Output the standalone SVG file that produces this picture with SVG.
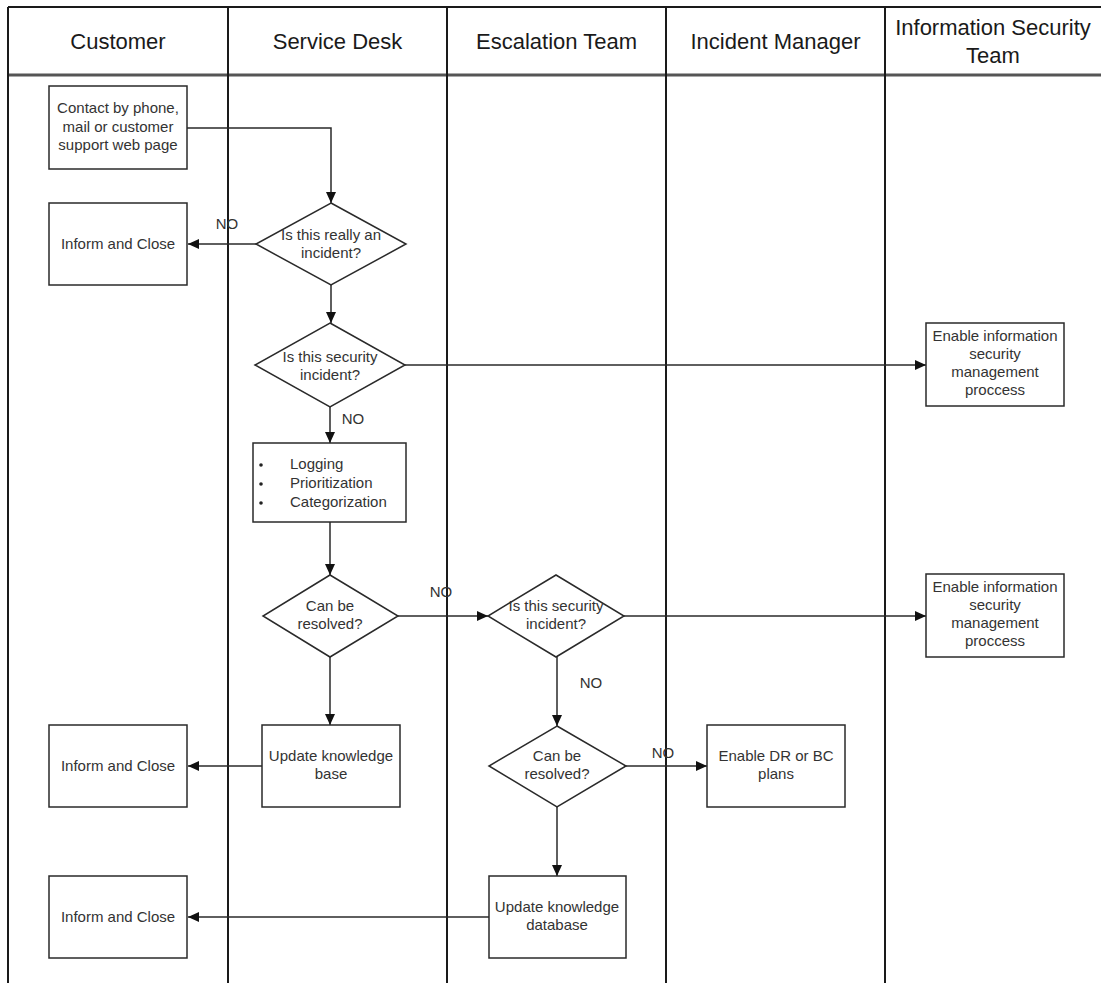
<svg xmlns="http://www.w3.org/2000/svg" width="1101" height="983" viewBox="0 0 1101 983">
<style>
.lane{stroke:#1a1a1a;stroke-width:2;fill:none}
.hdr{font-family:"Liberation Sans",Arial,sans-serif;font-size:22px;fill:#1a1a1a;text-anchor:middle}
.box{fill:#fff;stroke:#2a2a2a;stroke-width:1.5}
.t{font-family:"Liberation Sans",Arial,sans-serif;font-size:15px;fill:#333;text-anchor:middle}
.tl{font-family:"Liberation Sans",Arial,sans-serif;font-size:15px;fill:#333}
.conn{stroke:#2a2a2a;stroke-width:1.5;fill:none;marker-end:url(#ah)}
</style>
<defs>
<marker id="ah" markerUnits="userSpaceOnUse" markerWidth="12" markerHeight="10" refX="11" refY="5" orient="auto">
<path d="M0,0 L11,5 L0,10 Z" fill="#111"/>
</marker>
</defs>
<rect width="1101" height="983" fill="#fff"/>
<g id="lanes">
<line class="lane" x1="8" y1="7" x2="1101" y2="7"/>
<line x1="8" y1="75" x2="1101" y2="75" stroke="#555" stroke-width="3"/>
<line class="lane" x1="8" y1="7" x2="8" y2="983"/>
<line class="lane" x1="228" y1="7" x2="228" y2="983"/>
<line class="lane" x1="447" y1="7" x2="447" y2="983"/>
<line class="lane" x1="666" y1="7" x2="666" y2="983"/>
<line class="lane" x1="885" y1="7" x2="885" y2="983"/>
<text class="hdr" x="118" y="49">Customer</text>
<text class="hdr" x="337.5" y="49">Service Desk</text>
<text class="hdr" x="556.5" y="49">Escalation Team</text>
<text class="hdr" x="775.5" y="49">Incident Manager</text>
<text class="hdr" x="993" y="35">Information Security</text>
<text class="hdr" x="993" y="63">Team</text>
</g>
<g id="connectors">
<path class="conn" d="M187,128 H331 V203"/>
<path class="conn" d="M256,244 H188"/>
<path class="conn" d="M331,285 V323"/>
<path class="conn" d="M405,365 H926"/>
<path class="conn" d="M330,407 V443"/>
<path class="conn" d="M330,522 V575"/>
<path class="conn" d="M398,616 H488"/>
<path class="conn" d="M624,616 H926"/>
<path class="conn" d="M330,657 V725"/>
<path class="conn" d="M262,766 H188"/>
<path class="conn" d="M557,657 V726"/>
<path class="conn" d="M626,766 H707"/>
<path class="conn" d="M557,807 V876"/>
<path class="conn" d="M489,917 H188"/>
<text class="t" x="227" y="229">NO</text>
<text class="t" x="353" y="424">NO</text>
<text class="t" x="441" y="597">NO</text>
<text class="t" x="591" y="688">NO</text>
<text class="t" x="663" y="758">NO</text>
</g>
<g id="contact">
<rect class="box" x="49" y="86" width="138" height="83"/>
<text class="t" x="118" y="113">Contact by phone,</text>
<text class="t" x="118" y="132">mail or customer</text>
<text class="t" x="118" y="150">support web page</text>
</g>
<g id="inform1">
<rect class="box" x="49" y="203" width="138" height="82"/>
<text class="t" x="118" y="249">Inform and Close</text>
</g>
<g id="d1">
<polygon class="box" points="331,203 406,244 331,285 256,244"/>
<text class="t" x="331" y="240">Is this really an</text>
<text class="t" x="331" y="258">incident?</text>
</g>
<g id="d2">
<polygon class="box" points="330,323 405,365 330,407 255,365"/>
<text class="t" x="330" y="362">Is this security</text>
<text class="t" x="330" y="380">incident?</text>
</g>
<g id="enable1">
<rect class="box" x="926" y="323" width="138" height="83"/>
<text class="t" x="995" y="341">Enable information</text>
<text class="t" x="995" y="359">security</text>
<text class="t" x="995" y="377">management</text>
<text class="t" x="995" y="395">proccess</text>
</g>
<g id="logging">
<rect class="box" x="253" y="443" width="153" height="79"/>
<circle cx="261" cy="465" r="1.8" fill="#222"/>
<circle cx="261" cy="484" r="1.8" fill="#222"/>
<circle cx="261" cy="503" r="1.8" fill="#222"/>
<text class="tl" x="290" y="469">Logging</text>
<text class="tl" x="290" y="488">Prioritization</text>
<text class="tl" x="290" y="507">Categorization</text>
</g>
<g id="d3">
<polygon class="box" points="330,575 398,616 330,657 263,616"/>
<text class="t" x="330" y="611">Can be</text>
<text class="t" x="330" y="629">resolved?</text>
</g>
<g id="d4">
<polygon class="box" points="556,575 624,616 556,657 488,616"/>
<text class="t" x="556" y="611">Is this security</text>
<text class="t" x="556" y="629">incident?</text>
</g>
<g id="enable2">
<rect class="box" x="926" y="574" width="138" height="83"/>
<text class="t" x="995" y="592">Enable information</text>
<text class="t" x="995" y="610">security</text>
<text class="t" x="995" y="628">management</text>
<text class="t" x="995" y="646">proccess</text>
</g>
<g id="updatekb">
<rect class="box" x="262" y="725" width="138" height="82"/>
<text class="t" x="331" y="761">Update knowledge</text>
<text class="t" x="331" y="779">base</text>
</g>
<g id="inform2">
<rect class="box" x="49" y="725" width="138" height="82"/>
<text class="t" x="118" y="771">Inform and Close</text>
</g>
<g id="d5">
<polygon class="box" points="557,726 626,766 557,807 489,766"/>
<text class="t" x="557" y="761">Can be</text>
<text class="t" x="557" y="779">resolved?</text>
</g>
<g id="enabledr">
<rect class="box" x="707" y="725" width="138" height="82"/>
<text class="t" x="776" y="761">Enable DR or BC</text>
<text class="t" x="776" y="779">plans</text>
</g>
<g id="updatedb">
<rect class="box" x="489" y="876" width="137" height="82"/>
<text class="t" x="557" y="912">Update knowledge</text>
<text class="t" x="557" y="930">database</text>
</g>
<g id="inform3">
<rect class="box" x="49" y="876" width="138" height="82"/>
<text class="t" x="118" y="922">Inform and Close</text>
</g>
</svg>
